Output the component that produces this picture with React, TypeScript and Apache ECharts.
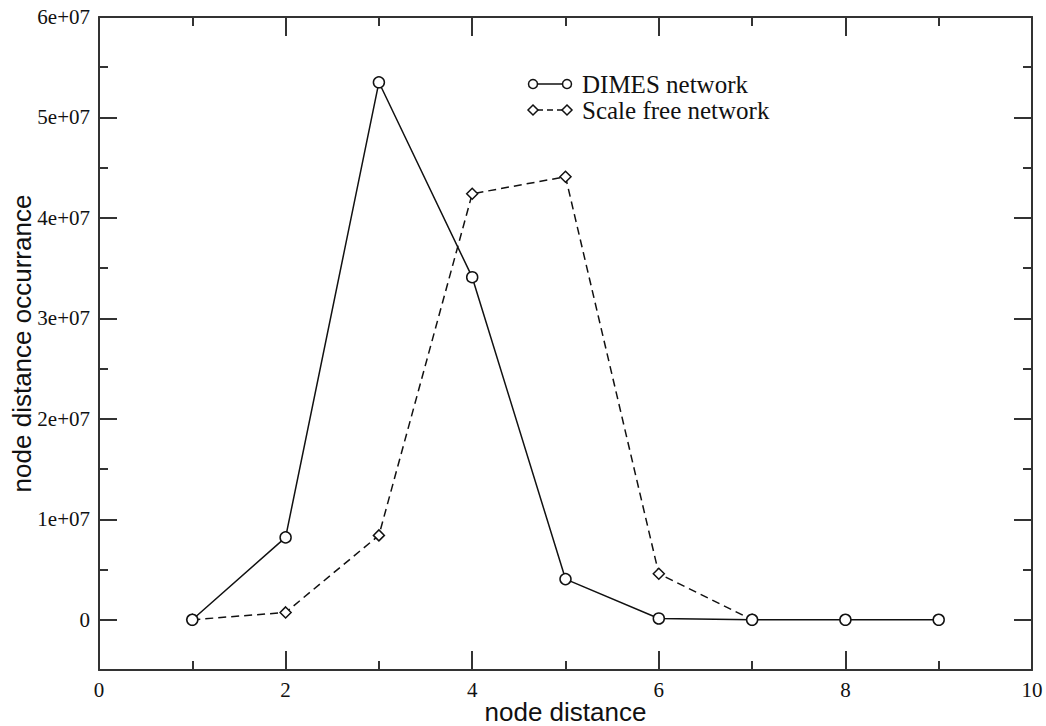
import React, { useEffect, useRef } from "react";
import * as echarts from "echarts";

// node distance (hops) and how often each distance occurs
const distances = [1, 2, 3, 4, 5, 6, 7, 8, 9];
const dimesCounts = [0, 8.2e6, 5.35e7, 3.41e7, 4.05e6, 1.3e5, 0, 0, 0];
const scaleFreeDistances = [1, 2, 3, 4, 5, 6, 7];
const scaleFreeCounts = [0, 7.3e5, 8.4e6, 4.24e7, 4.41e7, 4.58e6, 0];

const yMajorTicks = [0, 1e7, 2e7, 3e7, 4e7, 5e7, 6e7];
const yMinorTicks = [5e6, 1.5e7, 2.5e7, 3.5e7, 4.5e7, 5.5e7];
const yLabels = ["0", "1e+07", "2e+07", "3e+07", "4e+07", "5e+07", "6e+07"];

const seriesNames = ["DIMES network", "Scale free network"];

const AXIS_COLOR = "#333";
const SERIF = "'Liberation Serif', 'Times New Roman', serif";
const SANS = "'Liberation Sans', Arial, sans-serif";

const fmtY = (v: number) => {
  const i = yMajorTicks.indexOf(v);
  return i >= 0 ? yLabels[i] : "";
};

export default function App() {
  const ref = useRef<HTMLDivElement>(null);

  useEffect(() => {
    if (!ref.current) return;
    const chart = echarts.init(ref.current, undefined, { renderer: "svg" });

    const axisLine = { show: true, onZero: false, lineStyle: { color: AXIS_COLOR, width: 2 } };

    const xBase = (pos: "bottom" | "top", labels: boolean) => ({
      type: "value" as const,
      position: pos,
      min: 0,
      max: 10,
      interval: 2,
      axisLine,
      splitLine: { show: false },
      axisTick: { show: true, inside: true, length: 19, lineStyle: { color: AXIS_COLOR, width: 2 } },
      minorTick: { show: true, splitNumber: 2, length: 9, lineStyle: { color: AXIS_COLOR, width: 2 } },
      axisLabel: {
        show: labels,
        color: "#111",
        fontFamily: SERIF,
        fontSize: 21,
        margin: 9,
      },
    });

    const yMajor = (pos: "left" | "right", labels: boolean) => ({
      type: "value" as const,
      position: pos,
      min: -5e6,
      max: 6e7,
      axisLine,
      splitLine: { show: false },
      axisTick: {
        show: true,
        inside: true,
        length: 18,
        customValues: yMajorTicks,
        lineStyle: { color: AXIS_COLOR, width: 2 },
      },
      axisLabel: {
        show: labels,
        customValues: yMajorTicks,
        formatter: fmtY,
        color: "#111",
        fontFamily: SERIF,
        fontSize: 21,
        margin: 9,
      },
    });

    const yMinor = (pos: "left" | "right") => ({
      type: "value" as const,
      position: pos,
      min: -5e6,
      max: 6e7,
      axisLine: { show: false, onZero: false },
      splitLine: { show: false },
      axisTick: {
        show: true,
        inside: true,
        length: 9,
        customValues: yMinorTicks,
        lineStyle: { color: AXIS_COLOR, width: 2 },
      },
      axisLabel: { show: false },
    });

    const legendRows = seriesNames.map((name, i) => {
      const y = 84 + i * 26;
      const isCircle = i === 0;
      const sym = (cx: number) =>
        isCircle
          ? {
              type: "circle",
              shape: { cx, cy: y, r: 4.5 },
              style: { fill: "#fff", stroke: "#111", lineWidth: 1.5 },
            }
          : {
              type: "polygon",
              shape: {
                points: [
                  [cx, y - 5],
                  [cx + 5, y],
                  [cx, y + 5],
                  [cx - 5, y],
                ],
              },
              style: { fill: "#fff", stroke: "#111", lineWidth: 1.5 },
            };
      return [
        {
          type: "line",
          shape: { x1: 537, y1: y, x2: 563, y2: y },
          style: {
            stroke: "#111",
            lineWidth: 1.5,
            lineDash: isCircle ? null : [6, 4],
          },
        },
        sym(533),
        sym(567),
        {
          type: "text",
          x: 582,
          y,
          style: {
            text: name,
            fontFamily: SERIF,
            fontSize: 25,
            fill: "#111",
            verticalAlign: "middle",
          },
        },
      ];
    });

    chart.setOption({
      animation: false,
      backgroundColor: "#fff",
      grid: {
        left: 99,
        right: 14,
        top: 17,
        bottom: 56,
        containLabel: false,
        outerBoundsMode: "none",
      },
      xAxis: [
        {
          ...xBase("bottom", true),
          name: "node distance",
          nameLocation: "middle",
          nameGap: 42,
          nameMoveOverlap: false,
          nameTextStyle: {
            fontFamily: SANS,
            fontSize: 26,
            color: "#111",
            verticalAlign: "middle",
          },
        },
        xBase("top", false),
      ],
      yAxis: [
        {
          ...yMajor("left", true),
          name: "node distance occurrance",
          nameLocation: "middle",
          nameGap: 77,
          nameMoveOverlap: false,
          nameTextStyle: {
            fontFamily: SANS,
            fontSize: 26,
            color: "#111",
            verticalAlign: "middle",
          },
        },
        yMajor("right", false),
        yMinor("left"),
        yMinor("right"),
      ],
      graphic: legendRows.flat(),
      series: [
        {
          name: seriesNames[1],
          type: "line",
          data: scaleFreeDistances.map((d, i) => [d, scaleFreeCounts[i]]),
          symbol: "diamond",
          symbolSize: [11, 11],
          lineStyle: { color: "#111", width: 1.5, type: [8, 5] },
          itemStyle: { color: "#fff", borderColor: "#111", borderWidth: 1.5 },
          z: 2,
        },
        {
          name: seriesNames[0],
          type: "line",
          data: distances.map((d, i) => [d, dimesCounts[i]]),
          symbol: "circle",
          symbolSize: 11,
          lineStyle: { color: "#111", width: 1.5 },
          itemStyle: { color: "#fff", borderColor: "#111", borderWidth: 1.5 },
          z: 3,
        },
      ],
    });

    return () => chart.dispose();
  }, []);

  return (
    <div
      ref={ref}
      style={{ position: "fixed", left: 0, top: 0, width: 1046, height: 726, background: "#fff" }}
    />
  );
}
